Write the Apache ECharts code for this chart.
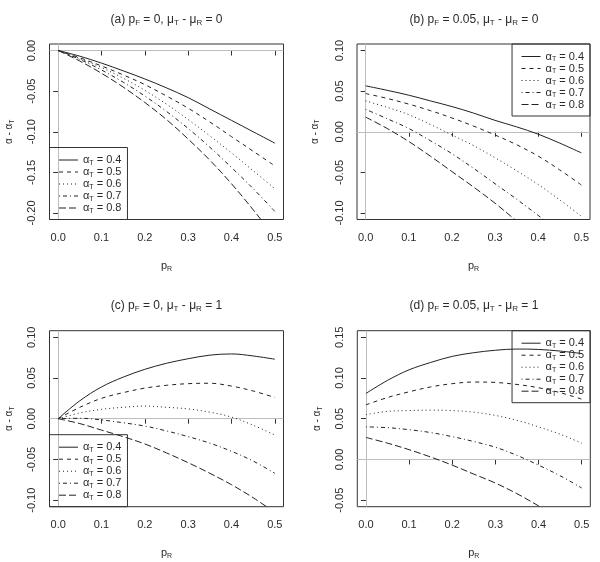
<!DOCTYPE html>
<html><head><meta charset="utf-8">
<script src="https://cdn.jsdelivr.net/npm/echarts@6/dist/echarts.min.js"></script>
<style>html,body{margin:0;padding:0;background:#fff}#c{width:600px;height:562px}</style>
</head><body><div id="c"></div>
<script>
// ---- data ----
const pR = [0, 0.05, 0.1, 0.15, 0.2, 0.25, 0.3, 0.35, 0.4, 0.45, 0.5];
const alphaT = ['0.4', '0.5', '0.6', '0.7', '0.8'];
const xTicks = [0, 0.1, 0.2, 0.3, 0.4, 0.5];
const yTicksA = [-0.2, -0.15, -0.1, -0.05, 0];
const yTicksB = [-0.1, -0.05, 0, 0.05, 0.1];
const yTicksC = [-0.1, -0.05, 0, 0.05, 0.1];
const yTicksD = [-0.05, 0, 0.05, 0.1, 0.15];
const titleA = '(a) p_F = 0, μ_T - μ_R = 0';
const titleB = '(b) p_F = 0.05, μ_T - μ_R = 0';
const titleC = '(c) p_F = 0, μ_T - μ_R = 1';
const titleD = '(d) p_F = 0.05, μ_T - μ_R = 1';

// panel (a)
const a04 = [0, -0.007, -0.0155, -0.025, -0.035, -0.046, -0.058, -0.072, -0.086, -0.100, -0.114];
const a05 = [0, -0.009, -0.019, -0.030, -0.042, -0.056, -0.071, -0.088, -0.106, -0.124, -0.142];
const a06 = [0, -0.010, -0.021, -0.034, -0.049, -0.066, -0.085, -0.105, -0.126, -0.148, -0.170];
const a07 = [0, -0.011, -0.024, -0.039, -0.056, -0.075, -0.096, -0.119, -0.144, -0.170, -0.198];
const a08 = [0, -0.013, -0.028, -0.045, -0.064, -0.085, -0.109, -0.135, -0.164, -0.196, -0.230];
// panel (b)
const b04 = [0.0565, 0.051, 0.045, 0.038, 0.031, 0.023, 0.014, 0.006, -0.003, -0.014, -0.026];
const b05 = [0.047, 0.041, 0.034, 0.026, 0.017, 0.007, -0.004, -0.016, -0.030, -0.047, -0.0655];
const b06 = [0.038, 0.030, 0.021, 0.009, -0.004, -0.017, -0.032, -0.048, -0.065, -0.084, -0.104];
const b07 = [0.0276, 0.016, 0.004, -0.011, -0.027, -0.045, -0.064, -0.083, -0.103, -0.123, -0.145];
const b08 = [0.018, 0.004, -0.012, -0.030, -0.049, -0.068, -0.088, -0.110, -0.133, -0.157, -0.182];
// panel (c)
const c04 = [0, 0.022, 0.039, 0.051, 0.0606, 0.068, 0.0736, 0.078, 0.0795, 0.077, 0.073];
const c05 = [0, 0.014, 0.025, 0.032, 0.0375, 0.041, 0.043, 0.0435, 0.040, 0.034, 0.026];
const c06 = [0, 0.007, 0.0115, 0.014, 0.0155, 0.014, 0.012, 0.008, 0.002, -0.008, -0.020];
const c07 = [0, 0.0005, -0.0015, -0.005, -0.009, -0.015, -0.022, -0.030, -0.040, -0.052, -0.067];
const c08 = [0, -0.006, -0.014, -0.022, -0.031, -0.042, -0.054, -0.067, -0.081, -0.097, -0.115];
// panel (d)
const d04 = [0.081, 0.097, 0.110, 0.119, 0.1265, 0.131, 0.134, 0.1355, 0.135, 0.133, 0.130];
const d05 = [0.067, 0.076, 0.083, 0.089, 0.093, 0.095, 0.0945, 0.092, 0.088, 0.082, 0.074];
const d06 = [0.055, 0.059, 0.060, 0.0605, 0.060, 0.058, 0.054, 0.048, 0.040, 0.031, 0.020];
const d07 = [0.040, 0.039, 0.0365, 0.033, 0.028, 0.022, 0.015, 0.005, -0.007, -0.020, -0.035];
const d08 = [0.027, 0.020, 0.012, 0.003, -0.007, -0.018, -0.029, -0.042, -0.057, -0.073, -0.090];

// ---- layout / style ----
const FONT = '"Liberation Sans", Arial, sans-serif';
const INK = '#2a2a2a';
const dashes = ['solid', [4, 4], [1, 3], [1, 3, 4, 3], [7, 3]];
const panels = [
  { data: [a04, a05, a06, a07, a08], yTicks: yTicksA, ymin: -0.208, ymax: 0.008, title: titleA,
    grid: { left: 49.5, top: 44, width: 234, height: 175.5 }, tx: 166.5, ty: 20,
    legend: { left: 49.5, bottom: 342.5 }, yGap: 34 },
  { data: [b04, b05, b06, b07, b08], yTicks: yTicksB, ymin: -0.108, ymax: 0.108, title: titleB,
    grid: { left: 357, top: 44, width: 233, height: 175.5 }, tx: 474, ty: 20,
    legend: { right: 10, top: 44 }, yGap: 36 },
  { data: [c04, c05, c06, c07, c08], yTicks: yTicksC, ymin: -0.108, ymax: 0.108, title: titleC,
    grid: { left: 49.5, top: 330.7, width: 234, height: 176 }, tx: 166.5, ty: 306,
    legend: { left: 49.5, bottom: 55.3 }, yGap: 34 },
  { data: [d04, d05, d06, d07, d08], yTicks: yTicksD, ymin: -0.058, ymax: 0.158, title: titleD,
    grid: { left: 357.3, top: 330.7, width: 233, height: 176 }, tx: 474, ty: 306,
    legend: { right: 10, top: 330.7 }, yGap: 34 }
];

const subRich = (size) => ({
  n: { fontSize: size, fontFamily: FONT, color: INK, lineHeight: size + 2 },
  s: { fontSize: Math.round(size * 0.68), fontFamily: FONT, color: INK, lineHeight: 4, verticalAlign: 'bottom' }
});
function richify(str) {
  // "x_Y" -> normal x, subscript Y
  let out = '';
  let buf = '';
  for (let i = 0; i < str.length; i++) {
    if (str[i] === '_' && i + 1 < str.length) {
      if (buf) out += '{n|' + buf + '}';
      buf = '';
      out += '{s|' + str[i + 1] + '}';
      i++;
    } else buf += str[i];
  }
  if (buf) out += '{n|' + buf + '}';
  return out;
}

const option = {
  animation: false,
  backgroundColor: '#fff',
  title: [], grid: [], xAxis: [], yAxis: [], legend: [], series: []
};

panels.forEach((p, i) => {
  option.title.push({
    text: richify(p.title), left: p.tx, top: p.ty, padding: 0,
    textAlign: 'center', textVerticalAlign: 'middle',
    textStyle: { fontSize: 12, fontWeight: 'normal', fontFamily: FONT, color: INK, rich: subRich(12) }
  });
  option.grid.push(Object.assign({ show: true, borderColor: '#333', borderWidth: 1, backgroundColor: 'transparent', containLabel: false }, p.grid));
  option.xAxis.push({
    type: 'value', gridIndex: i, min: -0.02, max: 0.52,
    name: richify('p_R'), nameLocation: 'middle', nameGap: 40,
    nameTextStyle: { rich: subRich(11) },
    axisLine: { show: false },
    axisTick: { show: true, length: 5, customValues: xTicks, lineStyle: { color: '#333' } },
    axisLabel: { show: true, customValues: xTicks, margin: 13, fontSize: 11, fontFamily: FONT, color: INK,
      formatter: v => v.toFixed(1) },
    splitLine: { show: false }
  });
  option.yAxis.push({
    type: 'value', gridIndex: i, min: p.ymin, max: p.ymax,
    name: richify('α - α_T'), nameLocation: 'middle', nameGap: p.yGap, nameRotate: 90,
    nameTextStyle: { rich: subRich(10) },
    axisLine: { show: false },
    axisTick: { show: true, length: 5, customValues: p.yTicks, lineStyle: { color: '#333' } },
    axisLabel: { show: true, customValues: p.yTicks, rotate: 90, margin: 12, fontSize: 11, fontFamily: FONT, color: INK,
      formatter: v => v.toFixed(2) },
    splitLine: { show: false }
  });
  option.legend.push(Object.assign({
    orient: 'vertical', selectedMode: false,
    data: alphaT.map(a => 'αT = ' + a),
    itemWidth: 19, itemHeight: 12, itemGap: 0,
    padding: [7, 6, 5, 9],
    borderColor: '#333', borderWidth: 1, borderRadius: 0,
    itemStyle: { opacity: 0, borderWidth: 0 },
    lineStyle: { width: 1 },
    formatter: n => '{n|α}{s|T}{n| = ' + n.split('= ')[1] + '}',
    textStyle: { fontSize: 11, fontFamily: FONT, color: INK, rich: subRich(11) }
  }, p.legend));
  p.data.forEach((vals, k) => {
    const s = {
      name: 'αT = ' + alphaT[k],
      type: 'line', xAxisIndex: i, yAxisIndex: i,
      data: pR.map((x, j) => [x, vals[j]]),
      smooth: 0.35, showSymbol: false, symbol: 'none', clip: true,
      lineStyle: { color: '#222', width: 1, type: dashes[k] },
      itemStyle: { color: '#222' },
      z: 3
    };
    if (k === 0) {
      s.markLine = {
        silent: true, symbol: ['none', 'none'], label: { show: false },
        lineStyle: { color: '#bdbdbd', type: 'solid', width: 1 },
        data: [{ yAxis: 0 }, { xAxis: 0 }], z: 1
      };
    }
    option.series.push(s);
  });
});

const chart = echarts.init(document.getElementById('c'), null, { renderer: 'canvas' });
chart.setOption(option);
</script>
</body></html>
